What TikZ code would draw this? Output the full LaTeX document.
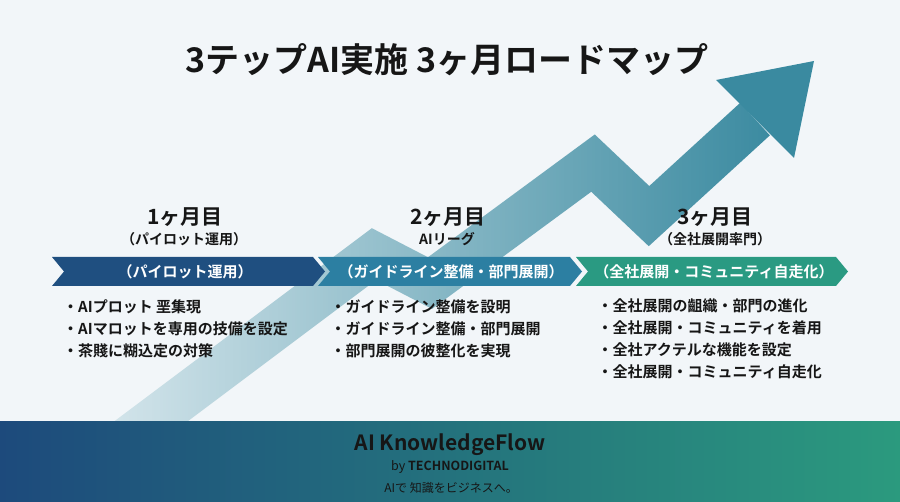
\documentclass[tikz,border=0pt]{standalone}
\usepackage{fontspec}
\setmainfont{Noto Sans CJK JP}[BoldFont={Noto Sans CJK JP Bold}]
\usetikzlibrary{fadings,calc}
\definecolor{bgc}{HTML}{F2F6F9}
\definecolor{bandlight}{HTML}{DEEBF0}
\definecolor{bandteal}{HTML}{3A8AA0}
\definecolor{ribA}{HTML}{1F4F80}
\definecolor{ribB}{HTML}{2C7FA2}
\definecolor{ribC}{HTML}{2A9A82}
\definecolor{footL}{HTML}{1D4A7C}
\definecolor{footM}{HTML}{5AA2B3}
\definecolor{footR}{HTML}{2B9A7E}
\definecolor{ink}{HTML}{161616}
\tikzset{
  bandline/.style={line width=44pt, line join=miter, line cap=butt},
  ribtext/.style={text=white, font=\bfseries\fontsize{15}{18}\selectfont, inner sep=0pt},
  monthlbl/.style={text=ink, font=\bfseries\fontsize{21}{25}\selectfont, inner sep=0pt},
  sublbl/.style={text=ink, font=\bfseries\fontsize{14}{17}\selectfont, inner sep=0pt},
  bullet/.style={text=ink, font=\bfseries\fontsize{15}{18}\selectfont, inner sep=0pt, anchor=west},
}
\begin{document}
\begin{tikzpicture}[x=1pt,y=-1pt]
\useasboundingbox (0,0) rectangle (900,502);
\fill[bgc] (0,0) rectangle (900,502);
% rising arrow band
\coordinate (c0) at (86,470);
\coordinate (c1) at (374,254);
\coordinate (c2) at (430,283);
\coordinate (c3) at (593,163);
\coordinate (c4) at (649,216);
\coordinate (c5) at (755,119);
\draw[bandline, bandlight] (c0)--(c1)--(c2)--(c3)--(c4)--(c5);
\draw[bandline, bandteal, path fading=west] (c0)--(c1)--(c2)--(c3)--(c4)--(c5);
\coordinate (hl) at (716,80);
\coordinate (ht) at (814,61);
\coordinate (hr) at (794,158);
\fill[bandteal] (hl)--(ht)--(hr)--cycle;
% title
\node[text=ink, font=\bfseries\fontsize{34}{40}\selectfont, inner sep=0pt] (title) at (447,60) {3テップAI実施 3ヶ月ロードマップ};
% month headers
\node[monthlbl] (m1) at (185,217) {1ヶ月目};
\node[sublbl] (s1) at (184,239) {（パイロット運用）};
\node[monthlbl] (m2) at (448,217) {2ヶ月目};
\node[sublbl] (s2) at (447,239) {AIリーグ};
\node[monthlbl] (m3) at (715,217) {3ヶ月目};
\node[sublbl] (s3) at (715,239) {（全社展開率門）};
% ribbons
\fill[ribA] (52,257)--(313,257)--(325,271.5)--(313,286)--(52,286)--(64,271.5)--cycle;
\fill[ribB] (318,257)--(570,257)--(582,271.5)--(570,286)--(318,286)--(330,271.5)--cycle;
\fill[ribC] (576,257)--(836,257)--(848,271.5)--(836,286)--(576,286)--(588,271.5)--cycle;
\node[ribtext] (r1) at (185,271.5) {（パイロット運用）};
\node[ribtext] (r2) at (451,271.5) {（ガイドライン整備・部門展開）};
\node[ribtext] (r3) at (714,271.5) {（全社展開・コミュニティ自走化）};
% bullets
\node[bullet] (b11) at (63,307) {・AIプロット 垩集現};
\node[bullet] (b12) at (63,329) {・AIマロットを専用の技備を設定};
\node[bullet] (b13) at (63,350.5) {・茶賤に糊込定の対策};
\node[bullet] (b21) at (330.5,307) {・ガイドライン整備を設明};
\node[bullet] (b22) at (330.5,329) {・ガイドライン整備・部門展開};
\node[bullet] (b23) at (330.5,350.5) {・部門展開の彼整化を実現};
\node[bullet] (b31) at (597.5,306) {・全社展開の齟織・部門の進化};
\node[bullet] (b32) at (597.5,328) {・全社展開・コミュニティを着用};
\node[bullet] (b33) at (597.5,350) {・全社アクテルな機能を設定};
\node[bullet] (b34) at (597.5,372) {・全社展開・コミュニティ自走化};
% footer
\shade[left color=footL, middle color=footM, right color=footR] (0,422) rectangle (900,502);
\node[text=ink, font=\bfseries\fontsize{21}{25}\selectfont, inner sep=0pt] (brand) at (450,445) {AI KnowledgeFlow};
\node[text=ink, font=\fontsize{12.5}{15}\selectfont, inner sep=0pt] (by) at (450,467) {by \textbf{TECHNODIGITAL}};
\node[text=ink, font=\fontsize{12}{14}\selectfont, inner sep=0pt] (tag) at (451,488) {AIで 知識をビジネスへ。};
\end{tikzpicture}
\end{document}
